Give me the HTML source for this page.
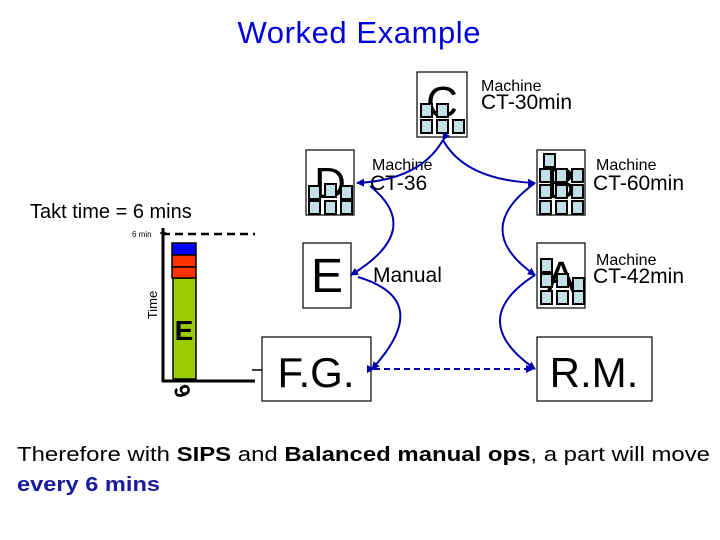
<!DOCTYPE html>
<html><head><style>
body{margin:0;width:720px;height:540px;background:#fff;overflow:hidden;font-family:"Liberation Sans",Arial,sans-serif;}
svg{position:absolute;left:0;top:0}
</style></head><body>
<svg width="720" height="540" viewBox="0 0 720 540" font-family="Liberation Sans, Arial, sans-serif">
<defs>
<marker id="ar" markerWidth="8" markerHeight="8" refX="7" refY="4" orient="auto" markerUnits="userSpaceOnUse"><path d="M0,0 L8,4 L0,8 z" fill="#0000aa"/></marker>
<g id="sq"><rect x="0" y="0" width="11" height="13" fill="#c4e0e4" stroke="#000" stroke-width="2"/></g>
</defs>
<text x="359" y="43" font-size="31" text-anchor="middle" fill="#0000dd" textLength="243">Worked Example</text>
<text x="30" y="218" font-size="20">Takt time = 6 mins</text>

<!-- chart -->
<line x1="162" y1="234" x2="255" y2="234" stroke="#000" stroke-width="2.5" stroke-dasharray="8,5"/>
<text x="132" y="237" font-size="8">6 min</text>
<line x1="160" y1="233" x2="166" y2="233" stroke="#000" stroke-width="1.5"/>
<line x1="163" y1="228" x2="163" y2="382" stroke="#000" stroke-width="3"/>
<line x1="162" y1="381" x2="255" y2="381" stroke="#000" stroke-width="3"/>
<text x="157" y="305" font-size="13" transform="rotate(-90 157 305)" text-anchor="middle">Time</text>
<rect x="173" y="278" width="23" height="101" fill="#99cc00" stroke="#000" stroke-width="1.5"/>
<rect x="172" y="243" width="24" height="12" fill="#0000ff" stroke="#000" stroke-width="1.5"/>
<rect x="172" y="255" width="24" height="12" fill="#ff3300" stroke="#000" stroke-width="1.5"/>
<rect x="172" y="267" width="24" height="11" fill="#ff3300" stroke="#000" stroke-width="1.5"/>
<text x="184" y="340" font-size="28" font-weight="bold" text-anchor="middle">E</text>
<text x="183" y="392" font-size="22" font-weight="bold" text-anchor="middle" transform="rotate(-110 185 388)">6</text>

<!-- boxes -->
<rect x="417" y="72" width="50" height="65" fill="#fff" stroke="#000" stroke-width="1.2"/>
<text x="442" y="117" font-size="44" text-anchor="middle">C</text>
<use href="#sq" x="421" y="104"/><use href="#sq" x="437" y="104"/>
<use href="#sq" x="421" y="120"/><use href="#sq" x="437" y="120"/><use href="#sq" x="453" y="120"/>

<rect x="306" y="150" width="48" height="65" fill="#fff" stroke="#000" stroke-width="1.2"/>
<text x="330" y="198" font-size="44" text-anchor="middle">D</text>
<use href="#sq" x="309" y="186"/><use href="#sq" x="325" y="184"/><use href="#sq" x="341" y="186"/>
<use href="#sq" x="309" y="201"/><use href="#sq" x="325" y="201"/><use href="#sq" x="341" y="201"/>

<rect x="537" y="150" width="48" height="65" fill="#fff" stroke="#000" stroke-width="1.2"/>
<text x="561" y="198" font-size="44" text-anchor="middle">B</text>
<use href="#sq" x="544" y="154"/><use href="#sq" x="540" y="169"/><use href="#sq" x="556" y="169"/><use href="#sq" x="572" y="169"/>
<use href="#sq" x="540" y="185"/><use href="#sq" x="556" y="185"/><use href="#sq" x="572" y="185"/>
<use href="#sq" x="540" y="201"/><use href="#sq" x="556" y="201"/><use href="#sq" x="572" y="201"/>

<rect x="303" y="243" width="48" height="65" fill="#fff" stroke="#000" stroke-width="1.2"/>
<text x="327" y="292" font-size="48" text-anchor="middle">E</text>

<rect x="537" y="243" width="48" height="65" fill="#fff" stroke="#000" stroke-width="1.2"/>
<text x="561" y="292" font-size="44" text-anchor="middle">A</text>
<use href="#sq" x="541" y="259"/><use href="#sq" x="541" y="274"/><use href="#sq" x="557" y="274"/><use href="#sq" x="573" y="278"/>
<use href="#sq" x="541" y="291"/><use href="#sq" x="557" y="291"/><use href="#sq" x="573" y="291"/>

<rect x="262" y="337" width="109" height="64" fill="#fff" stroke="#000" stroke-width="1.2"/>
<text x="316" y="387" font-size="42" text-anchor="middle">F.G.</text>
<rect x="537" y="337" width="115" height="64" fill="#fff" stroke="#000" stroke-width="1.2"/>
<text x="594" y="387" font-size="42" text-anchor="middle">R.M.</text>

<!-- labels -->
<text x="481" y="91" font-size="16">Machine</text>
<text x="481" y="109" font-size="21">CT-30min</text>
<text x="372" y="170" font-size="16">Machine</text>
<text x="370" y="190" font-size="21">CT-36</text>
<text x="596" y="170" font-size="16">Machine</text>
<text x="593" y="190" font-size="21">CT-60min</text>
<text x="373" y="282" font-size="21">Manual</text>
<text x="596" y="265" font-size="16">Machine</text>
<text x="593" y="283" font-size="21">CT-42min</text>

<!-- arcs -->
<g fill="none" stroke="#0000aa" stroke-width="2">
<path d="M443,140 Q420,180 357,183" marker-start="url(#ar)" marker-end="url(#ar)"/>
<path d="M443,140 Q465,180 535,183" marker-end="url(#ar)"/>
<path d="M370,186 Q425,230 351,275" marker-end="url(#ar)"/>
<path d="M358,277 Q435,300 372,369" marker-end="url(#ar)"/>
<path d="M535,183 Q470,230 535,275" marker-end="url(#ar)"/>
<path d="M535,275 Q465,320 535,369" marker-end="url(#ar)"/>
<line x1="374" y1="369" x2="533" y2="369" stroke-dasharray="6,4" marker-start="url(#ar)" marker-end="url(#ar)"/>
</g>
<line x1="252" y1="370" x2="262" y2="370" stroke="#000" stroke-width="1.5"/>

<text x="17" y="461" font-size="20" textLength="693" lengthAdjust="spacingAndGlyphs">Therefore with <tspan font-weight="bold">SIPS</tspan> and <tspan font-weight="bold">Balanced manual ops</tspan>, a part will move</text>
<text x="17" y="491" font-size="20" font-weight="bold" fill="#1a1aa0" textLength="143" lengthAdjust="spacingAndGlyphs">every 6 mins</text>
</svg>
</body></html>
